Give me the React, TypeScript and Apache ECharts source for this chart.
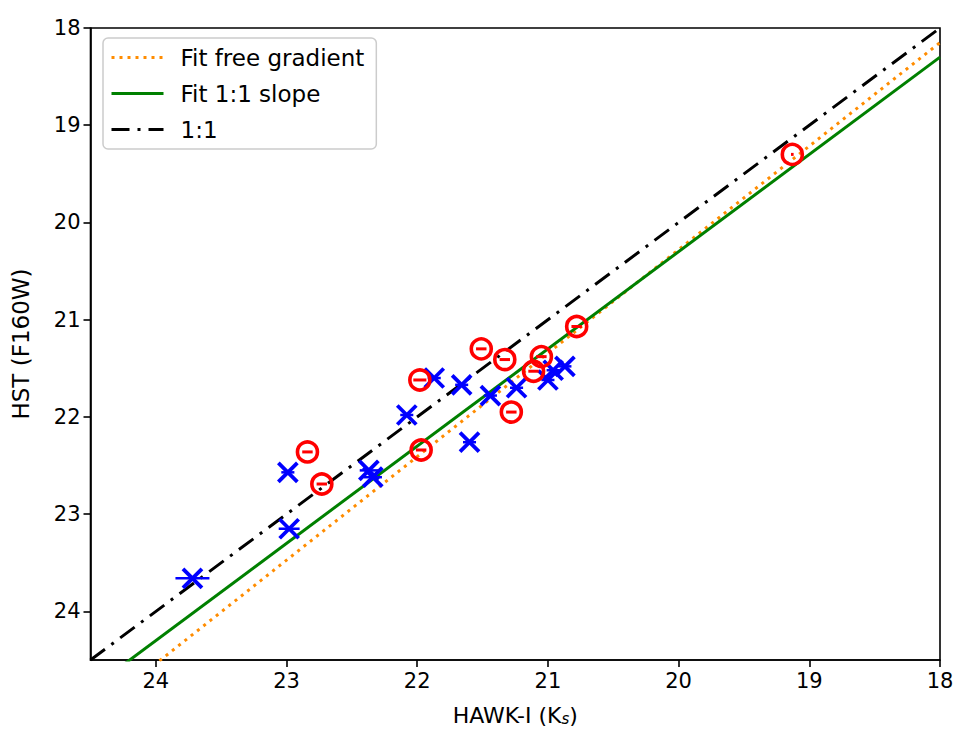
import React, { useEffect, useRef } from "react";
import * as echarts from "echarts";

// HAWK-I Ks (x) vs HST F160W (y)
const redX = [19.13, 20.78, 21.51, 21.33, 21.05, 21.11, 21.28, 21.98, 21.97, 22.84, 22.73];
const redY = [19.3, 21.07, 21.3, 21.41, 21.38, 21.53, 21.95, 21.62, 22.34, 22.36, 22.69];
const redErr = [0.01, 0.04, 0.04, 0.04, 0.04, 0.04, 0.04, 0.05, 0.04, 0.04, 0.04];

const blueX = [23.72, 22.99, 22.98, 22.37, 22.34, 22.08, 21.87, 21.66, 21.44, 21.24, 21.6, 21.0, 20.96, 20.87];
const blueY = [23.66, 22.57, 23.15, 22.55, 22.62, 21.98, 21.6, 21.67, 21.78, 21.7, 22.26, 21.62, 21.52, 21.48];
const blueErr = [0.13, 0.05, 0.08, 0.07, 0.07, 0.05, 0.05, 0.05, 0.05, 0.05, 0.05, 0.05, 0.05, 0.05];

const lineXs = [24.5, 18];
const oneToOneY = [24.5, 18];
const fitSlopeY = [24.8, 18.3];
const fitFreeY = [25.07, 18.15];

const tickValues = [18, 19, 20, 21, 22, 23, 24];

const FONT = "DejaVu Sans";

export default function App() {
  const ref = useRef<HTMLDivElement>(null);
  useEffect(() => {
    if (!ref.current) return;
    const chart = echarts.init(ref.current, null, { renderer: "svg" });

    const redData = redX.map((x, i) => [x, redY[i], redErr[i]]);
    const blueData = blueX.map((x, i) => [x, blueY[i], blueErr[i]]);

    const renderRed = (params: any, api: any) => {
      const x = api.value(0), y = api.value(1), e = api.value(2);
      const c = api.coord([x, y]);
      const l = api.coord([x + e, y]);
      const r = api.coord([x - e, y]);
      return {
        type: "group",
        children: [
          { type: "line", shape: { x1: l[0], y1: c[1], x2: r[0], y2: c[1] }, style: { stroke: "#ff0000", lineWidth: 3 } },
          { type: "circle", shape: { cx: c[0], cy: c[1], r: 10 }, style: { stroke: "#ff0000", fill: "none", lineWidth: 3.6 } },
        ],
      };
    };
    const renderBlue = (params: any, api: any) => {
      const x = api.value(0), y = api.value(1), e = api.value(2);
      const c = api.coord([x, y]);
      const l = api.coord([x + e, y]);
      const r = api.coord([x - e, y]);
      const s = 9.5;
      const st = { stroke: "#0000ff", lineWidth: 3.8 };
      return {
        type: "group",
        children: [
          { type: "line", shape: { x1: l[0], y1: c[1], x2: r[0], y2: c[1] }, style: { stroke: "#0000ff", lineWidth: 2.5 } },
          { type: "line", shape: { x1: c[0] - s, y1: c[1] - s, x2: c[0] + s, y2: c[1] + s }, style: st },
          { type: "line", shape: { x1: c[0] - s, y1: c[1] + s, x2: c[0] + s, y2: c[1] - s }, style: st },
        ],
      };
    };

    const axisCommon = {
      type: "value",
      min: 18,
      max: 24.5,
      interval: 1,
      inverse: true,
      splitLine: { show: false },
      axisLine: { show: true, onZero: false, lineStyle: { color: "#000", width: 1.6 } },
      axisTick: { show: true, inside: false, length: 7, customValues: tickValues, lineStyle: { color: "#000", width: 1.6 } },
      axisLabel: { customValues: tickValues, color: "#000", fontFamily: FONT, fontSize: 21, margin: 10 },
    };

    chart.setOption({
      animation: false,
      backgroundColor: "#fff",
      grid: {
        left: 90.5, right: 18, top: 28, bottom: 73,
        containLabel: false,
        outerBoundsMode: "none",
        show: true, borderColor: "#000", borderWidth: 1.6, backgroundColor: "transparent",
      },
      xAxis: {
        ...axisCommon,
        name: "HAWK-I (K{sub|s})",
        nameLocation: "middle",
        nameGap: 44,
        nameTextStyle: {
          color: "#000", fontFamily: FONT, fontSize: 22,
          rich: { sub: { fontFamily: FONT, fontSize: 15, fontStyle: "italic", verticalAlign: "bottom", padding: [7, 0, 0, 0], color: "#000" } },
        },
      },
      yAxis: {
        ...axisCommon,
        name: "HST (F160W)",
        nameLocation: "middle",
        nameGap: 58,
        nameRotate: 90,
        nameTextStyle: { color: "#000", fontFamily: FONT, fontSize: 23 },
      },
      legend: {
        show: true,
        left: 103,
        top: 38,
        orient: "vertical",
        itemWidth: 52,
        itemHeight: 14,
        itemGap: 13,
        padding: [8, 12, 8, 7],
        backgroundColor: "rgba(255,255,255,0.8)",
        borderColor: "#cccccc",
        borderWidth: 1.5,
        borderRadius: 5,
        itemStyle: { opacity: 0 },
        lineStyle: { width: 3 },
        textStyle: { color: "#000", fontFamily: FONT, fontSize: 23, padding: [0, 0, 0, 12] },
        data: ["Fit free gradient", "Fit 1:1 slope", "1:1"],
      },
      series: [
        {
          name: "Fit free gradient",
          type: "line",
          data: lineXs.map((x, i) => [x, fitFreeY[i]]),
          symbol: "none",
          clip: true,
          lineStyle: { color: "#ff8c00", width: 3, type: [3, 5] },
          itemStyle: { color: "#ff8c00" },
          z: 2,
        },
        {
          name: "Fit 1:1 slope",
          type: "line",
          data: lineXs.map((x, i) => [x, fitSlopeY[i]]),
          symbol: "none",
          clip: true,
          lineStyle: { color: "#008000", width: 3 },
          itemStyle: { color: "#008000" },
          z: 2,
        },
        {
          name: "1:1",
          type: "line",
          data: lineXs.map((x, i) => [x, oneToOneY[i]]),
          symbol: "none",
          clip: true,
          lineStyle: { color: "#000", width: 3, type: [18, 8, 3, 8] },
          itemStyle: { color: "#000" },
          z: 2,
        },
        {
          name: "HAWK-I only",
          type: "custom",
          renderItem: renderBlue,
          data: blueData,
          clip: true,
          z: 3,
        },
        {
          name: "Red",
          type: "custom",
          renderItem: renderRed,
          data: redData,
          clip: true,
          z: 4,
        },
      ],
    });
    return () => chart.dispose();
  }, []);
  return <div ref={ref} style={{ position: "fixed", left: 0, top: 0, width: 958, height: 733, background: "#fff" }} />;
}
